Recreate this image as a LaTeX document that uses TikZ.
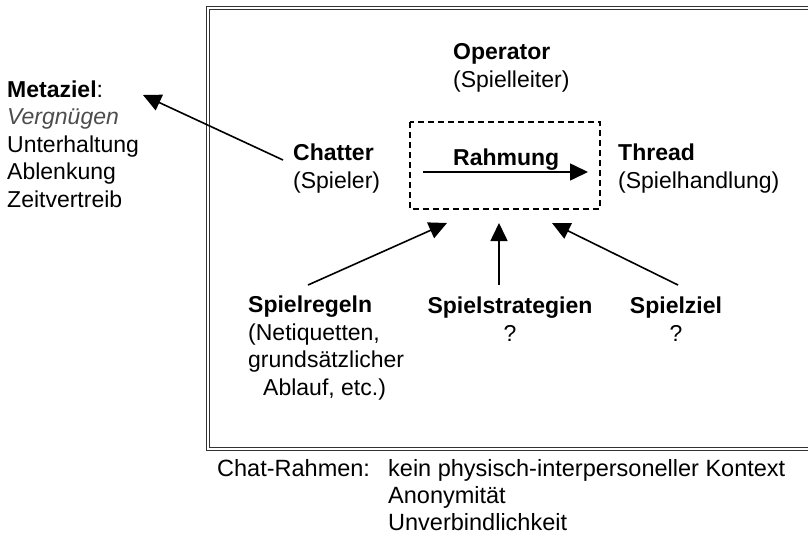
\documentclass[tikz,border=0pt]{standalone}
\usepackage{fontspec}
\setmainfont{Liberation Sans}
\usetikzlibrary{arrows.meta}
\begin{document}
\begin{tikzpicture}[x=1pt,y=-1pt,
  txt/.style={inner sep=0pt, anchor=base west, align=left, font=\fontsize{23}{27.4}\selectfont},
  ctxt/.style={inner sep=0pt, anchor=base, align=center, font=\fontsize{23}{27.4}\selectfont},
  btxt/.style={inner sep=0pt, anchor=base west, align=left, font=\fontsize{23.5}{27}\selectfont},
  arr/.style={line width=1.6pt, -{Triangle[length=18pt,width=17pt]}},
  frameline/.style={line width=0.8pt, draw=black!80},
  dashbox/.style={line width=1.6pt, dash pattern=on 6pt off 4pt}]
\useasboundingbox (0,0) rectangle (808,536);
\begin{scope}
\clip (0,0) rectangle (808,536);
% frame (double line)
\draw[frameline] (206,6) rectangle (840,450);
\draw[frameline] (209,9) rectangle (840,447);
\end{scope}
% dashed box
\draw[dashbox] (410,122) rectangle (600,209);
% texts (anchor = baseline of last line)
\node[txt] (meta) at (7,207) {\textbf{Metaziel}:\\{\color{black!70}\itshape Vergnügen}\\Unterhaltung\\Ablenkung\\Zeitvertreib};
\node[txt] (oper) at (453,87) {\textbf{Operator}\\(Spielleiter)};
\node[txt] (chat) at (293,188) {\textbf{Chatter}\\(Spieler)};
\node[txt] (thread) at (618,188) {\textbf{Thread}\\(Spielhandlung)};
\node[txt] (rahm) at (453,165) {\textbf{Rahmung}};
\node[txt] (regeln) at (248,395) {\textbf{Spielregeln}\\(Netiquetten,\\grundsätzlicher\\\hspace*{15pt}Ablauf, etc.)};
\node[ctxt] (strat) at (510,341) {\textbf{Spielstrategien}\\?};
\node[ctxt] (ziel) at (676,341) {\textbf{Spielziel}\\?};
\node[btxt] (chatr) at (217,476) {Chat-Rahmen:};
\node[btxt] (chatl) at (388,530) {kein physisch-interpersoneller Kontext\\Anonymität\\Unverbindlichkeit};
% arrow end points
\coordinate (rs) at (423,172);
\coordinate (re) at (588,172);
\coordinate (ms) at (283,160);
\coordinate (me) at (143,95);
\coordinate (gs) at (308,285);
\coordinate (ge) at (447,223);
\coordinate (ss) at (499,285);
\coordinate (se) at (499,223);
\coordinate (zs) at (678,285);
\coordinate (ze) at (552,223);
\draw[arr] (rs) -- (re);
\draw[arr] (ms) -- (me);
\draw[arr] (gs) -- (ge);
\draw[arr] (ss) -- (se);
\draw[arr] (zs) -- (ze);
\end{tikzpicture}
\end{document}
